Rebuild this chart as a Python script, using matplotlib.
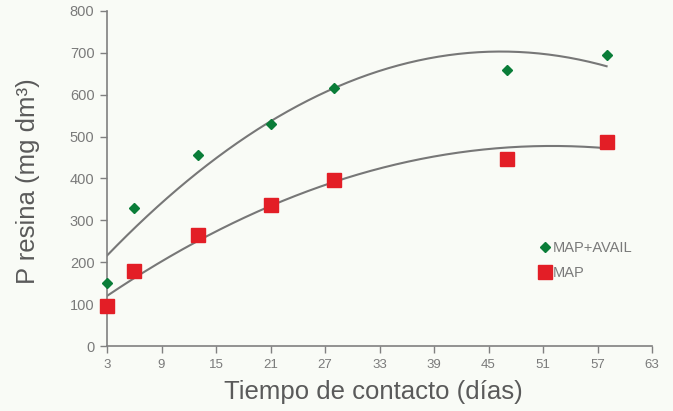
import numpy as np
import matplotlib
matplotlib.use("Agg")
import matplotlib.pyplot as plt

plt.rcParams['font.family'] = ['Liberation Sans', 'DejaVu Sans']

dias = [3, 6, 13, 21, 28, 47, 58]
map_avail = [150, 330, 455, 530, 615, 660, 695]
map_only = [95, 178, 265, 336, 396, 447, 488]
x_ticks = [3, 9, 15, 21, 27, 33, 39, 45, 51, 57, 63]
y_ticks = [0, 100, 200, 300, 400, 500, 600, 700, 800]

bg = '#f9fbf6'
fig = plt.figure(figsize=(6.73, 4.11), dpi=100, facecolor=bg)
ax = fig.add_axes([107/673, 1-346/411, (652-107)/673, (346-11)/411], facecolor=bg)

xs = np.linspace(min(dias), max(dias), 200)
for ys in (map_avail, map_only):
    c = np.polyfit(dias, ys, 2)
    ax.plot(xs, np.polyval(c, xs), color='#777777', lw=1.5, zorder=2)

ax.plot(dias, map_avail, linestyle='none', marker='D', ms=5.3, color='#0a7d38',
        mec='#0a7d38', label='MAP+AVAIL', zorder=3, clip_on=False)
ax.plot(dias, map_only, linestyle='none', marker='s', ms=9.6, color='#e31e26',
        mec='#e31e26', label='MAP', zorder=3, clip_on=False)

ax.set_xlim(3, 63)
ax.set_ylim(0, 800)
ax.set_xticks(x_ticks)
ax.set_yticks(y_ticks)
for s in ('top', 'right'):
    ax.spines[s].set_visible(False)
for s in ('left', 'bottom'):
    ax.spines[s].set_color('#808080')
    ax.spines[s].set_linewidth(1.2)
ax.tick_params(axis='y', direction='out', length=5, width=1, color='#808080',
               labelcolor='#7a7a7a', labelsize=10.5, pad=4)
ax.tick_params(axis='x', direction='out', length=5, width=1, color='#808080',
               labelcolor='#7a7a7a', labelsize=9.5, pad=4)

ax.set_xlabel('Tiempo de contacto (días)', fontsize=18.5, color='#5a5a5a')
ax.set_ylabel('P resina (mg dm³)', fontsize=18.5, color='#5a5a5a')
ax.xaxis.set_label_coords((373-107)/545, (346-380)/335)
ax.yaxis.set_label_coords((40-107)/545, (346-181)/335)

leg = ax.legend(loc='upper left', bbox_to_anchor=((527-107)/545, (346-228)/335),
                frameon=False, handlelength=0.6, handletextpad=0.3,
                labelspacing=0.75, fontsize=10.5)
for t in leg.get_texts():
    t.set_color('#7a7a7a')

fig.savefig('out.png', dpi=100, facecolor=bg)
